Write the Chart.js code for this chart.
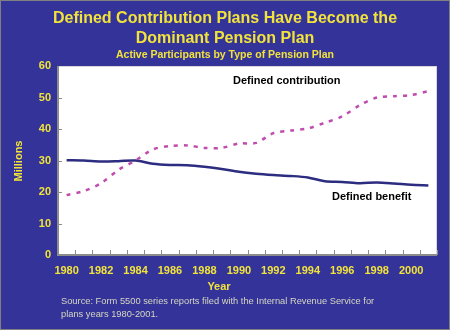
<!DOCTYPE html>
<html>
<head>
<meta charset="utf-8">
<script src="https://cdn.jsdelivr.net/npm/chart.js@4.4.1/dist/chart.umd.min.js"></script>
<style>
  html, body { margin: 0; padding: 0; background: #333399; }
  #wrap { width: 448px; height: 328px; border: 1px solid #808080; position: relative; }
  canvas { display: block; }
</style>
</head>
<body>
<div id="wrap"><canvas id="pensionChart" width="448" height="328"></canvas></div>
<script>
const years = ["1980","1981","1982","1983","1984","1985","1986","1987","1988","1989","1990",
               "1991","1992","1993","1994","1995","1996","1997","1998","1999","2000","2001"];
const definedContribution = [19.0, 20.3, 22.8, 27.0, 30.0, 33.5, 34.6, 34.8, 34.0, 34.0, 35.4,
                             35.6, 38.7, 39.5, 40.2, 42.0, 44.0, 47.5, 50.0, 50.4, 50.8, 52.0];
const definedBenefit = [30.1, 30.0, 29.7, 29.8, 30.0, 29.0, 28.6, 28.5, 28.0, 27.3, 26.4,
                        25.8, 25.4, 25.1, 24.6, 23.4, 23.2, 22.8, 23.0, 22.7, 22.3, 22.1];
const yTicks = [0, 10, 20, 30, 40, 50, 60];

const YELLOW = "#f2e33c";
const BOLD = "bold 11px Arial, 'Liberation Sans', sans-serif";

// Frame, inside tick marks and all the loose text
const decorations = {
    id: "decorations",
    beforeDatasetsDraw(chart) {
        const { ctx, chartArea: a, scales } = chart;
        ctx.save();
        ctx.fillStyle = "#ffffff";
        ctx.fillRect(a.left, a.top, a.right - a.left, a.bottom - a.top);
        ctx.strokeStyle = "#8c8c8c";
        ctx.lineWidth = 1;
        ctx.beginPath();
        yTicks.forEach(v => {
            const y = Math.round(scales.y.getPixelForValue(v)) + 0.5;
            ctx.moveTo(a.left, y); ctx.lineTo(a.left + 4, y);
        });
        const half = (scales.x.getPixelForValue(1) - scales.x.getPixelForValue(0)) / 2;
        for (let i = 0; i < years.length; i++) {
            const x = Math.round(scales.x.getPixelForValue(i) + half) + 0.5;
            ctx.moveTo(x, a.bottom); ctx.lineTo(x, a.bottom - 5);
        }
        ctx.stroke();
        ctx.strokeStyle = "#d8d8d8";
        ctx.strokeRect(a.left + 0.5, a.top + 0.5, a.right - a.left - 1, a.bottom - a.top - 1);
        ctx.strokeStyle = "#8c8c8c";
        ctx.lineWidth = 2;
        ctx.beginPath();
        ctx.moveTo(a.left, a.top); ctx.lineTo(a.left, a.bottom); ctx.lineTo(a.right, a.bottom);
        ctx.stroke();
        ctx.restore();
    },
    afterDraw(chart) {
        const { ctx } = chart;
        ctx.save();
        ctx.fillStyle = YELLOW;
        ctx.textAlign = "center";
        ctx.textBaseline = "middle";
        ctx.font = "bold 16px Arial, 'Liberation Sans', sans-serif";
        ctx.fillText("Defined Contribution Plans Have Become the", 224, 18);
        ctx.fillText("Dominant Pension Plan", 224, 38);
        ctx.font = "bold 10.5px Arial, 'Liberation Sans', sans-serif";
        ctx.fillText("Active Participants by Type of Pension Plan", 224, 54);
        ctx.font = BOLD;
        ctx.fillText("Year", 218, 286);
        ctx.save();
        ctx.translate(18, 160);
        ctx.rotate(-Math.PI / 2);
        ctx.fillText("Millions", 0, 0);
        ctx.restore();
        ctx.textAlign = "left";
        ctx.fillStyle = "#d6d6c0";
        ctx.font = "9.3px Arial, 'Liberation Sans', sans-serif";
        ctx.fillText("Source: Form 5500 series reports filed with the Internal Revenue Service for", 60, 300);
        ctx.fillText("plans years 1980-2001.", 60, 313);
        ctx.fillStyle = "#000000";
        ctx.font = BOLD;
        ctx.fillText("Defined contribution", 232, 80);
        ctx.fillText("Defined benefit", 331, 196);
        ctx.restore();
    }
};

new Chart(document.getElementById("pensionChart"), {
    type: "line",
    data: {
        labels: years,
        datasets: [{
            label: "Defined contribution",
            data: definedContribution,
            borderColor: "#c04cae",
            borderWidth: 2.5,
            borderDash: [4, 6],
            borderCapStyle: "butt",
            pointRadius: 0,
            tension: 0.3,
            fill: false
        }, {
            label: "Defined benefit",
            data: definedBenefit,
            borderColor: "#2c2c80",
            borderWidth: 2.5,
            pointRadius: 0,
            tension: 0.3,
            fill: false
        }]
    },
    options: {
        responsive: false,
        animation: false,
        layout: { padding: { left: 0, right: 12, top: 65, bottom: 0 } },
        plugins: { legend: { display: false }, tooltip: { enabled: false } },
        scales: {
            x: {
                offset: true,
                grid: { display: false, drawTicks: false },
                border: { display: false },
                afterFit: s => { s.height = 74; },
                ticks: {
                    autoSkip: false,
                    maxRotation: 0,
                    padding: 9,
                    color: YELLOW,
                    font: { family: "Arial, 'Liberation Sans', sans-serif", size: 11, weight: "bold" },
                    callback: (v, i) => (i % 2 === 0 ? years[i] : "")
                }
            },
            y: {
                min: 0,
                max: 60,
                grid: { display: false, drawTicks: false },
                border: { display: false },
                afterFit: s => { s.width = 57; },
                afterBuildTicks: s => { s.ticks = yTicks.map(v => ({ value: v })); },
                ticks: {
                    padding: 7,
                    color: YELLOW,
                    font: { family: "Arial, 'Liberation Sans', sans-serif", size: 11, weight: "bold" }
                }
            }
        }
    },
    plugins: [decorations]
});
</script>
</body>
</html>
